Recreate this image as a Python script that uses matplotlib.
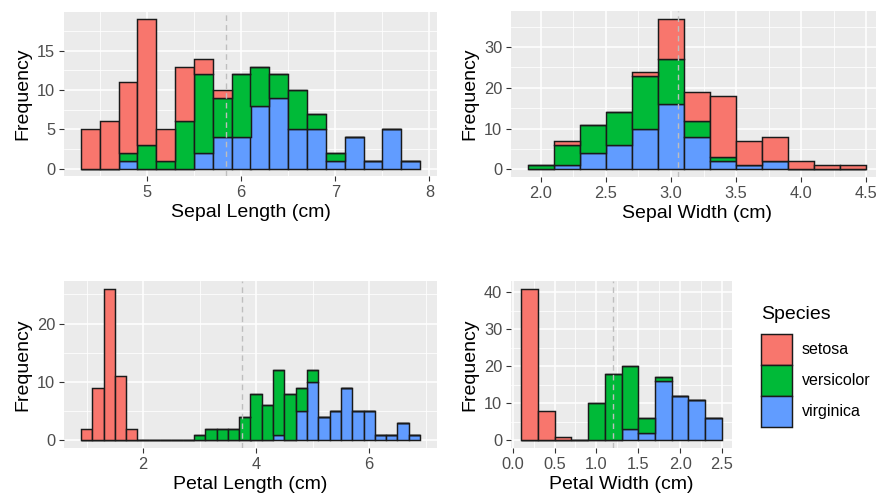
import matplotlib.pyplot as plt
import numpy as np
from matplotlib.patches import Rectangle
from matplotlib.ticker import MultipleLocator, FormatStrFormatter

plt.rcParams['font.family'] = ['Liberation Sans', 'DejaVu Sans']

SPECIES = ["setosa", "versicolor", "virginica"]
COLORS = ["#F8766D", "#00BA38", "#619CFF"]
BIN_WIDTH = 0.2

# Sepal length: 18 bins starting at 4.3
sl_start = 4.3
sl_setosa = [5, 6, 9, 16, 4, 7, 2, 1, 0, 0, 0, 0, 0, 0, 0, 0, 0, 0]
sl_versicolor = [0, 0, 1, 3, 1, 6, 10, 5, 8, 5, 3, 5, 2, 1, 0, 0, 0, 0]
sl_virginica = [0, 0, 1, 0, 0, 0, 2, 4, 4, 8, 9, 5, 5, 1, 4, 1, 5, 1]
sl_mean = 5.843

# Sepal width: 13 bins starting at 1.9
sw_start = 1.9
sw_setosa = [0, 1, 0, 0, 1, 10, 7, 15, 6, 6, 2, 1, 1]
sw_versicolor = [1, 5, 7, 8, 13, 11, 4, 1, 0, 0, 0, 0, 0]
sw_virginica = [0, 1, 4, 6, 10, 16, 8, 2, 1, 2, 0, 0, 0]
sw_mean = 3.057

# Petal length: 30 bins starting at 0.9
pl_start = 0.9
pl_setosa = [2, 9, 26, 11, 2, 0, 0, 0, 0, 0,
             0, 0, 0, 0, 0, 0, 0, 0, 0, 0,
             0, 0, 0, 0, 0, 0, 0, 0, 0, 0]
pl_versicolor = [0, 0, 0, 0, 0, 0, 0, 0, 0, 0,
                 1, 2, 2, 2, 4, 8, 6, 11, 8, 4,
                 2, 0, 0, 0, 0, 0, 0, 0, 0, 0]
pl_virginica = [0, 0, 0, 0, 0, 0, 0, 0, 0, 0,
                0, 0, 0, 0, 0, 0, 0, 1, 0, 5,
                10, 4, 5, 9, 5, 5, 1, 1, 3, 1]
pl_mean = 3.758

# Petal width: 12 bins starting at 0.1
pw_start = 0.1
pw_setosa = [41, 8, 1, 0, 0, 0, 0, 0, 0, 0, 0, 0]
pw_versicolor = [0, 0, 0, 0, 10, 18, 17, 4, 1, 0, 0, 0]
pw_virginica = [0, 0, 0, 0, 0, 0, 3, 2, 16, 12, 11, 6]
pw_mean = 1.199

W, H = 876, 499
fig = plt.figure(figsize=(W / 100, H / 100), dpi=100)


def px_axes(left, top, right, bottom):
    return fig.add_axes([left / W, 1 - bottom / H, (right - left) / W, (bottom - top) / H])


def stacked_hist(ax, start, counts, mean, xlabel, major, minor, fmt):
    n = len(counts[0])
    edges = start + BIN_WIDTH * np.arange(n + 1)
    lefts = edges[:-1]
    # ggplot stacks first level on top -> draw from the bottom up
    bottom = np.zeros(n)
    for c, col in zip(counts[::-1], COLORS[::-1]):
        c = np.asarray(c, dtype=float)
        ax.bar(lefts, c, width=BIN_WIDTH, bottom=bottom, align='edge',
               color=col, edgecolor='#1a1a1a', linewidth=1.05, zorder=3)
        bottom = bottom + c
    ymax = bottom.max()
    ax.set_ylim(-0.05 * ymax, 1.05 * ymax)
    rng = edges[-1] - edges[0]
    ax.set_xlim(edges[0] - 0.05 * rng, edges[-1] + 0.05 * rng)
    ax.axvline(mean, color='#BEBEBE', linestyle=(0, (4, 3)), linewidth=1.0, zorder=4)

    ax.set_facecolor('#EBEBEB')
    for s in ax.spines.values():
        s.set_visible(False)
    ax.xaxis.set_major_locator(MultipleLocator(major[0]))
    ax.xaxis.set_minor_locator(MultipleLocator(minor[0]))
    ax.yaxis.set_major_locator(MultipleLocator(major[1]))
    ax.yaxis.set_minor_locator(MultipleLocator(minor[1]))
    ax.xaxis.set_major_formatter(FormatStrFormatter(fmt))
    ax.grid(which='major', color='white', linewidth=1.1, zorder=0)
    ax.grid(which='minor', color='white', linewidth=0.55, zorder=0)
    ax.set_axisbelow(True)
    ax.tick_params(which='major', length=3.4, width=0.8, color='#333333',
                   labelsize=11.8, labelcolor='#4D4D4D', pad=3)
    ax.tick_params(which='minor', length=0)
    ax.set_xlabel(xlabel, fontsize=14, color='black', labelpad=3)
    ax.set_ylabel('Frequency', fontsize=14, color='black', labelpad=4)


ax1 = px_axes(64, 12, 437, 176)
stacked_hist(ax1, sl_start, [sl_setosa, sl_versicolor, sl_virginica], sl_mean,
             'Sepal Length (cm)', (1, 5), (0.5, 2.5), '%d')

ax2 = px_axes(511, 11, 883, 177)
stacked_hist(ax2, sw_start, [sw_setosa, sw_versicolor, sw_virginica], sw_mean,
             'Sepal Width (cm)', (0.5, 10), (0.25, 5), '%.1f')

ax3 = px_axes(64, 281, 437, 448)
stacked_hist(ax3, pl_start, [pl_setosa, pl_versicolor, pl_virginica], pl_mean,
             'Petal Length (cm)', (2, 10), (1, 5), '%d')

ax4 = px_axes(511, 281, 732, 448)
stacked_hist(ax4, pw_start, [pw_setosa, pw_versicolor, pw_virginica], pw_mean,
             'Petal Width (cm)', (0.5, 10), (0.25, 5), '%.1f')

# legend drawn by hand in a pixel-coordinate axes (ggplot style keys)
lax = px_axes(745, 290, 876, 440)
lax.set_xlim(745, 876)
lax.set_ylim(440, 290)
lax.axis('off')
lax.text(761, 315, 'Species', fontsize=14, ha='left', va='center')
key_top, key_size = 334, 31
for i, (name, col) in enumerate(zip(SPECIES, COLORS)):
    y0 = key_top + i * key_size
    lax.add_patch(Rectangle((761, y0), key_size, key_size, facecolor=col,
                            edgecolor='#1a1a1a', linewidth=1.05))
    lax.text(802, y0 + key_size / 2, name, fontsize=11.5, ha='left', va='center')

fig.savefig('out.png', dpi=100)
